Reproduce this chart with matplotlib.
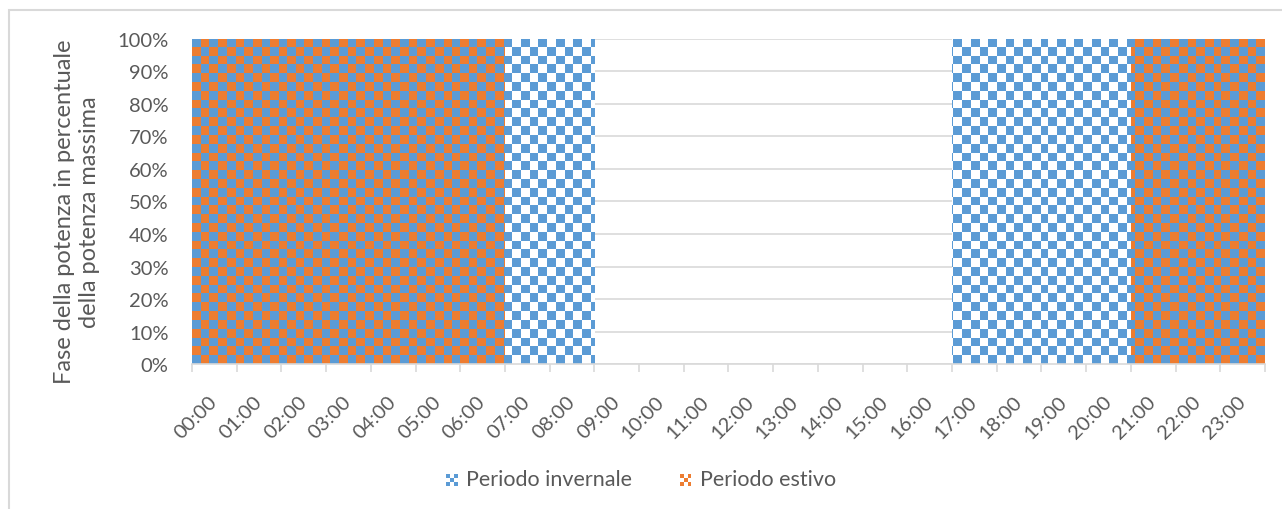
import matplotlib.pyplot as plt
import numpy as np
from matplotlib.patches import Rectangle
from matplotlib.legend_handler import HandlerBase

plt.rcParams['font.family'] = ['Lato', 'DejaVu Sans']

# ore del giorno e periodi (1 = 100%)
hours = ["%02d:00" % h for h in range(24)]
winter = [1, 1, 1, 1, 1, 1, 1, 1, 1, 0, 0, 0, 0, 0, 0, 0, 0, 1, 1, 1, 1, 1, 1, 1]
summer = [1, 1, 1, 1, 1, 1, 1, 0, 0, 0, 0, 0, 0, 0, 0, 0, 0, 0, 0, 0, 0, 1, 1, 1]
yticks = np.arange(0, 1.01, 0.1)

blue = "#5B9BD5"
orange = "#ED7D31"
txt = "#595959"
grid = "#D9D9D9"


def checker(c1, c2, nx=124, ny=37):
    a = np.array(plt.matplotlib.colors.to_rgba(c1))
    b = np.array(plt.matplotlib.colors.to_rgba(c2))
    i, j = np.meshgrid(np.arange(nx), np.arange(ny))
    mask = ((i + j) % 2 == 0)[..., None]
    return np.where(mask, a, b)


fig = plt.figure(figsize=(12.82, 5.10), dpi=100)
ax = fig.add_axes([0.1498, 0.2843, 0.8369, 0.6373])

x = np.arange(len(hours))
wbars = ax.bar(x, winter, width=1.0, color="none", edgecolor="none", label="Periodo invernale")
sbars = ax.bar(x, summer, width=1.0, color="none", edgecolor="none", label="Periodo estivo")

img_w = checker(blue, "white")
img_s = checker(blue, orange)
for bars, img in [(wbars, img_w), (sbars, img_s)]:
    for b in bars:
        if b.get_height() <= 0:
            continue
        im = ax.imshow(img, extent=(-0.5, 23.5, 0, 1), aspect="auto",
                       interpolation="nearest", zorder=2, origin="upper")
        im.set_clip_path(b)

ax.set_xlim(-0.5, 23.5)
ax.set_ylim(0, 1)
ax.set_yticks(yticks)
ax.set_yticklabels(["%d%%" % round(v * 100) for v in yticks], color=txt, fontsize=14.5)
ax.yaxis.grid(True, color=grid, linewidth=1.2)
ax.set_axisbelow(True)
ax.tick_params(axis="y", length=0, pad=17)

ax.set_xticks(x)
ax.set_xticklabels(hours, rotation=45, ha="right", va="center",
                   rotation_mode="anchor", color=txt, fontsize=14.5)
ax.set_xticks(np.arange(-0.5, 24, 1), minor=True)
ax.tick_params(axis="x", which="major", length=0, pad=25)
ax.tick_params(axis="x", which="minor", length=6, color=grid, width=1.2)

for s in ["top", "right", "left"]:
    ax.spines[s].set_visible(False)
ax.spines["bottom"].set_color(grid)
ax.spines["bottom"].set_linewidth(1.2)

ax.set_ylabel("Fase della potenza in percentuale\ndella potenza massima",
              color=txt, fontsize=17, linespacing=1.2)
ax.yaxis.set_label_coords(-0.086, 0.47)


class CheckerHandler(HandlerBase):
    def __init__(self, c1, c2):
        super().__init__()
        self.c1, self.c2 = c1, c2

    def create_artists(self, legend, orig, xd, yd, w, h, fs, trans):
        s = min(w, h)
        x0 = xd + w - s
        y0 = yd
        cell = s / 3
        out = []
        for i in range(3):
            for j in range(3):
                c = self.c1 if (i + j) % 2 == 0 else self.c2
                out.append(Rectangle((x0 + i * cell, y0 + j * cell), cell, cell,
                                     facecolor=c, edgecolor="none", transform=trans))
        return out


leg = fig.legend(handles=[wbars, sbars], labels=["Periodo invernale", "Periodo estivo"],
                 loc="center", bbox_to_anchor=(0.5, 0.059), ncol=2, frameon=False,
                 fontsize=15.5, labelcolor=txt, handlelength=0.55, handleheight=0.55,
                 handletextpad=0.4, columnspacing=2.2,
                 handler_map={wbars: CheckerHandler(blue, "white"),
                              sbars: CheckerHandler(orange, "white")})

# bordo del grafico
fig.patches.append(Rectangle((9 / 1282, -0.05), 1.1, (510 - 11) / 510 + 0.05,
                             transform=fig.transFigure, facecolor="none",
                             edgecolor=grid, linewidth=1.5))

fig.savefig("out.png", dpi=100)
